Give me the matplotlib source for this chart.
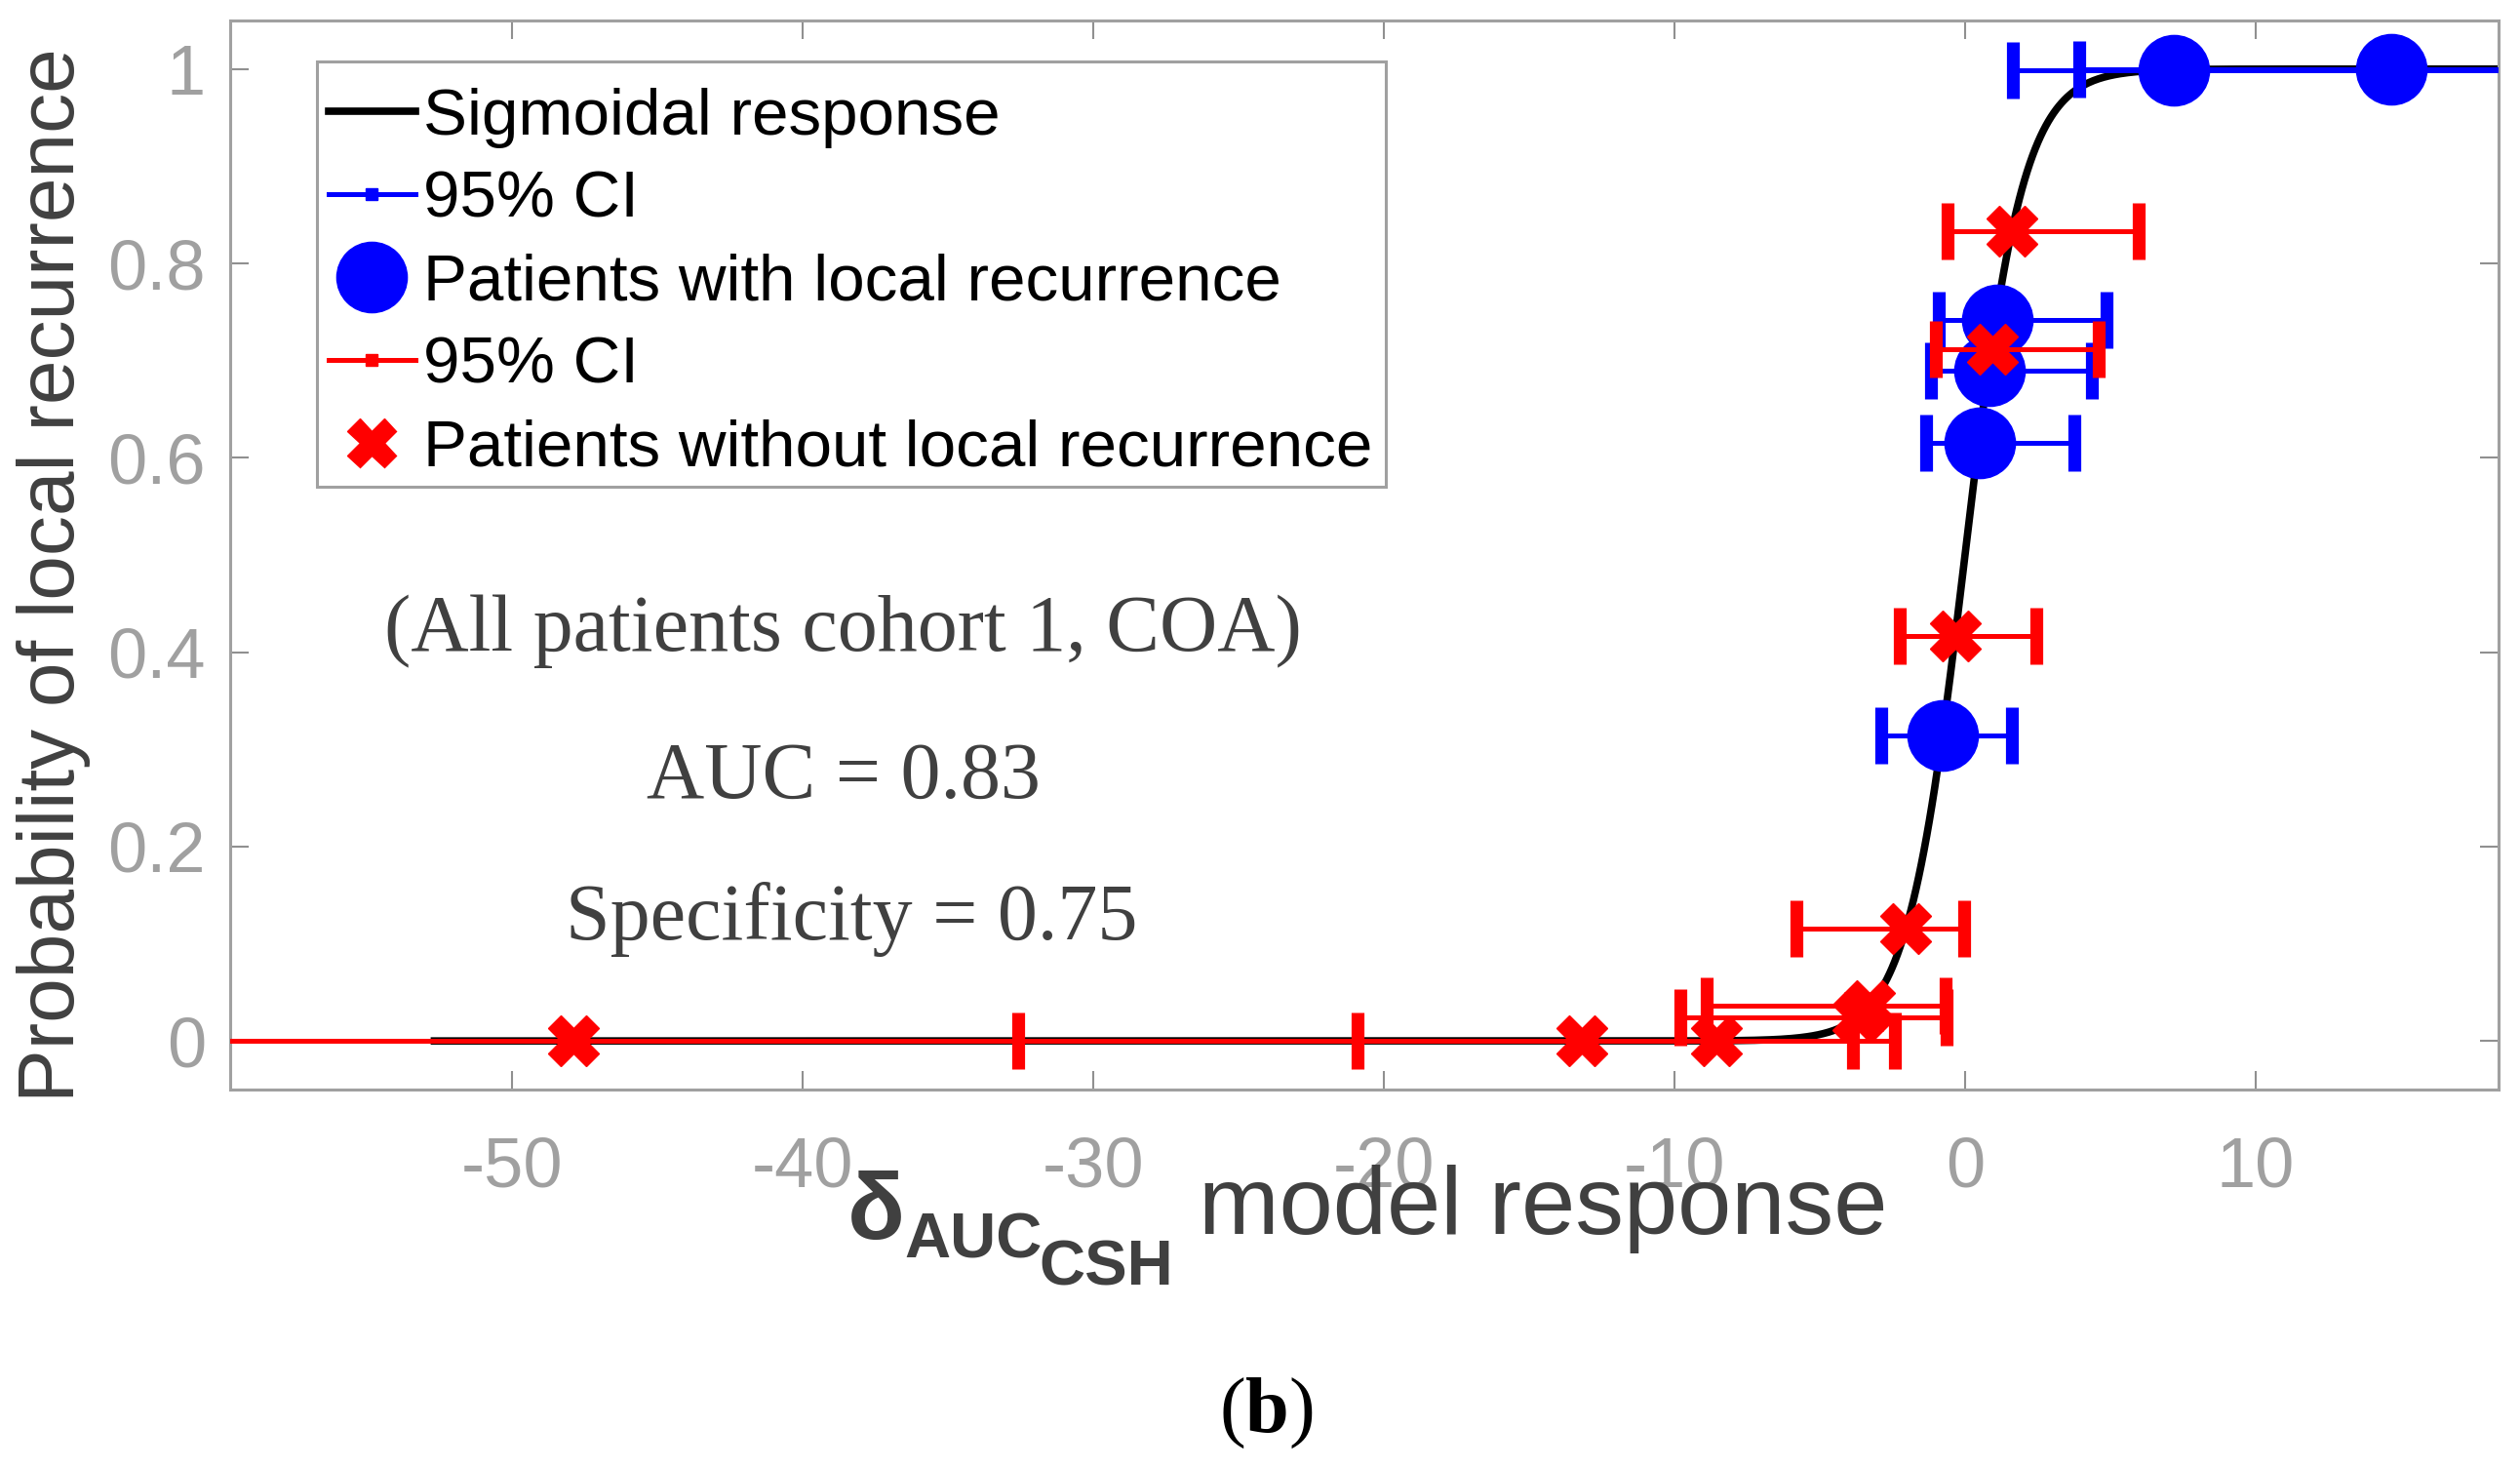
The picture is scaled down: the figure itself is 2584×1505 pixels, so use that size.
import numpy as np
import matplotlib
matplotlib.use("Agg")
import matplotlib.pyplot as plt
from matplotlib.lines import Line2D
from matplotlib.patches import Rectangle

plt.rcParams['font.family'] = ['Liberation Sans', 'DejaVu Sans']
plt.rcParams['mathtext.fontset'] = 'custom'
plt.rcParams['mathtext.rm'] = 'Liberation Serif'
plt.rcParams['mathtext.bf'] = 'Liberation Serif:bold'

# ---------------- data ----------------
# patients with local recurrence (blue)
blue_x = [-0.78, 0.50, 0.84, 1.10, 7.18, 14.66]
blue_y = [0.314, 0.615, 0.690, 0.742, 0.999, 1.000]
blue_lo = [-2.90, -1.34, -1.17, -0.90, 1.64, 3.93]
blue_hi = [1.60, 3.75, 4.36, 4.87, 25.0, 30.0]

# patients without local recurrence (red)
red_x = [-47.9, -13.2, -8.56, -3.70, -3.30, -2.03, -0.33, 0.94, 1.61]
red_y = [0.000, 0.000, 0.000, 0.024, 0.036, 0.116, 0.417, 0.712, 0.833]
red_lo = [-75.0, -20.9, -65.0, -9.80, -8.90, -5.79, -2.25, -1.00, -0.60]
red_hi = [-32.6, -3.86, -2.40, -0.62, -0.67, -0.03, 2.45, 4.60, 5.97]

# fitted sigmoid parameters (midpoint, slope) and plotted range
sig_mid = 0.0
sig_slope = 1.0
sig_range = [-52.8, 20.0]

xticks = [-50, -40, -30, -20, -10, 0, 10]
yticks = [0, 0.2, 0.4, 0.6, 0.8, 1.0]
ytick_labels = ['0', '0.2', '0.4', '0.6', '0.8', '1']

annot_lines = ['(All patients cohort 1, COA)', 'AUC = 0.83', 'Specificity = 0.75']

# ---------------- figure ----------------
W, H = 2584, 1505
fig = plt.figure(figsize=(W / 100, H / 100), dpi=100)
AX_L, AX_R, AX_T, AX_B = 236, 2562, 21, 1117
ax = fig.add_axes([AX_L / W, 1 - AX_B / H, (AX_R - AX_L) / W, (AX_B - AX_T) / H])

def ax_frac(px, py):
    return (px - AX_L) / (AX_R - AX_L), (AX_B - py) / (AX_B - AX_T)

xs = np.linspace(sig_range[0], sig_range[1], 800)
ys = 1.0 / (1.0 + np.exp(-(xs - sig_mid) * sig_slope))
ax.plot(xs, ys, color='black', lw=5.5, zorder=2, solid_capstyle='butt')

bx = np.array(blue_x); by = np.array(blue_y)
bxerr = [bx - np.array(blue_lo), np.array(blue_hi) - bx]
ax.errorbar(bx, by, xerr=bxerr, fmt='none', ecolor='blue', elinewidth=3.6,
            capsize=21, capthick=9.5, zorder=3)
ax.plot(bx, by, 'o', color='blue', ms=52, mec='blue', mew=1, zorder=4, ls='none')

rx = np.array(red_x); ry = np.array(red_y)
rxerr = [rx - np.array(red_lo), np.array(red_hi) - rx]
ax.errorbar(rx, ry, xerr=rxerr, fmt='none', ecolor='red', elinewidth=3.6,
            capsize=21, capthick=9.5, zorder=5)
ax.plot(rx, ry, 'X', color='red', ms=38, mec='red', mew=1, zorder=6, ls='none')

ax.set_xlim(-59.7, 18.36)
ax.set_ylim(-0.05, 1.05)
ax.set_xticks(xticks)
ax.set_xticklabels([str(t) for t in xticks])
ax.set_yticks(yticks)
ax.set_yticklabels(ytick_labels)

for s in ax.spines.values():
    s.set_color('#a0a0a0')
    s.set_linewidth(2.2)
ax.tick_params(direction='in', length=14, width=1.5, color='#909090',
               top=True, right=True, labelsize=52, labelcolor='#a0a0a0')
ax.tick_params(axis='x', pad=34)
ax.tick_params(axis='y', pad=18)

# annotation texts
txt_kw = dict(family='Liberation Serif', size=59, color='#404040', ha='center', va='baseline')
ax.text(-38.6, 0.402, annot_lines[0], **txt_kw)
ax.text(-38.6, 0.250, annot_lines[1], **txt_kw)
ax.text(-38.3, 0.105, annot_lines[2], **txt_kw)

# legend frame
fx0, fy0 = ax_frac(325, 499)
fx1, fy1 = ax_frac(1421, 63)
ax.add_patch(Rectangle((fx0, fy0), fx1 - fx0, fy1 - fy0, transform=ax.transAxes,
                       facecolor='white', edgecolor='#a0a0a0', lw=2.2, zorder=9))

# legend
handles = [
    Line2D([], [], color='black', lw=5.5),
    Line2D([], [], color='blue', lw=3.6, marker='s', ms=9),
    Line2D([], [], color='blue', ls='none', marker='o', ms=52),
    Line2D([], [], color='red', lw=3.6, marker='s', ms=9),
    Line2D([], [], color='red', ls='none', marker='X', ms=36),
]
labels = ['Sigmoidal response', '95% CI', 'Patients with local recurrence',
          '95% CI', 'Patients without local recurrence']
leg = ax.legend(handles, labels, loc='upper left',
                bbox_to_anchor=ax_frac(337, 90),
                borderaxespad=0, fontsize=48.5, frameon=False,
                handlelength=1.32, handletextpad=0.12, labelspacing=0.34,
                borderpad=0)
leg.set_zorder(10)

# y label
fig.text(55 / W, 1 - 590 / H, 'Probability of local recurrence', rotation=90,
         ha='center', va='center', size=59, color='#404040')

# x label pieces
lab_col = '#404040'
fig.text(869 / W, 1 - 1270 / H, 'δ', size=70, weight='bold', color=lab_col,
         ha='left', va='baseline')
fig.text(927 / W, 1 - 1290 / H, 'AUC', size=47, weight='bold', color=lab_col,
         ha='left', va='baseline')
fig.text(1065 / W, 1 - 1317 / H, 'CSH', size=47, weight='bold', color=lab_col,
         ha='left', va='baseline')
fig.text(1229 / W, 1 - 1265 / H, 'model response', size=71.5, color=lab_col,
         ha='left', va='baseline')

fig.text(1298 / W, 1 - 1468 / H, r'$(\mathbf{b})$', size=58, color='black',
         ha='center', va='baseline')

fig.savefig('out.png', dpi=100)
